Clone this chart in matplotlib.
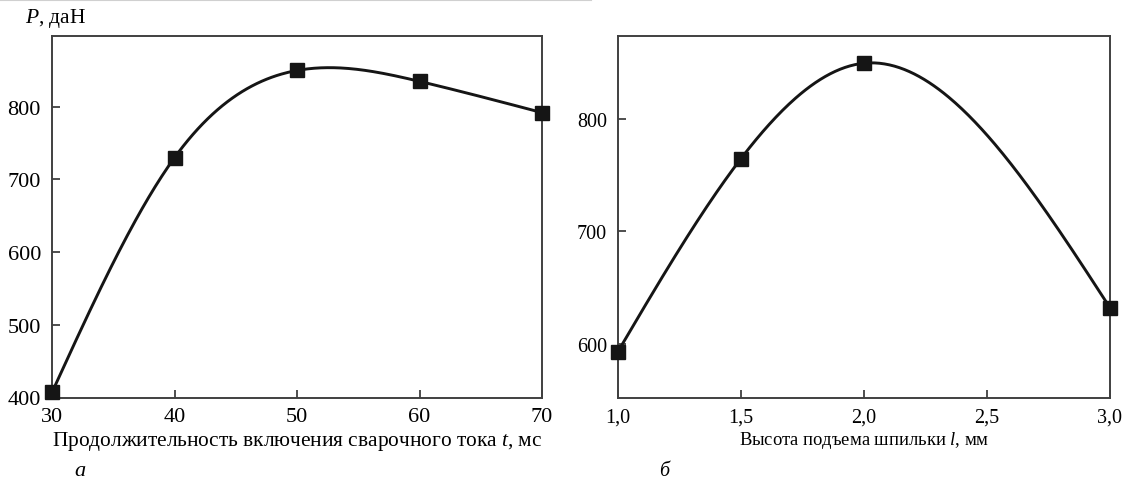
import numpy as np
import matplotlib
matplotlib.use("Agg")
import matplotlib.pyplot as plt
from matplotlib.lines import Line2D

# Data
t_ms = [30, 40, 50, 60, 70]
P_t = [407, 730, 850, 835, 792]
l_mm = [1.0, 1.5, 2.0, 3.0]
P_l = [593, 765, 850, 632]

xticks_a = [30, 40, 50, 60, 70]
xticklabels_a = ["30", "40", "50", "60", "70"]
yticks_a = [400, 500, 600, 700, 800]
xticks_b = [1.0, 1.5, 2.0, 2.5, 3.0]
xticklabels_b = ["1,0", "1,5", "2,0", "2,5", "3,0"]
yticks_b = [600, 700, 800]


def natural_spline(x, y, n=300):
    x = np.asarray(x, float)
    y = np.asarray(y, float)
    m = len(x)
    h = np.diff(x)
    A = np.zeros((m, m))
    b = np.zeros(m)
    A[0, 0] = 1
    A[-1, -1] = 1
    for i in range(1, m - 1):
        A[i, i - 1] = h[i - 1]
        A[i, i] = 2 * (h[i - 1] + h[i])
        A[i, i + 1] = h[i]
        b[i] = 3 * ((y[i + 1] - y[i]) / h[i] - (y[i] - y[i - 1]) / h[i - 1])
    c = np.linalg.solve(A, b)
    xs = np.linspace(x[0], x[-1], n)
    ys = np.empty_like(xs)
    for k, xv in enumerate(xs):
        i = min(np.searchsorted(x, xv, side="right") - 1, m - 2)
        dx = xv - x[i]
        bb = (y[i + 1] - y[i]) / h[i] - h[i] * (2 * c[i] + c[i + 1]) / 3
        d = (c[i + 1] - c[i]) / (3 * h[i])
        ys[k] = y[i] + bb * dx + c[i] * dx ** 2 + d * dx ** 3
    return xs, ys


plt.rcParams["font.family"] = ["Liberation Serif", "DejaVu Serif"]
plt.rcParams["mathtext.fontset"] = "custom"
plt.rcParams["mathtext.it"] = "Liberation Serif:italic"
plt.rcParams["mathtext.rm"] = "Liberation Serif"

W, H = 1129, 481
fig = plt.figure(figsize=(W / 100, H / 100), dpi=100)
ax1 = fig.add_axes([52 / W, 1 - 398.5 / H, 490 / W, 361.2 / H])
ax2 = fig.add_axes([618 / W, 1 - 398.5 / H, 492 / W, 361.2 / H])

# faint scan line at top
fig.add_artist(Line2D([0, 591 / W], [1 - 1 / H, 1 - 1 / H], transform=fig.transFigure,
                      color="#d0d0d0", lw=1.5))

spine_color = "#404040"
for ax, fs in ((ax1, 16), (ax2, 14.5)):
    for s in ax.spines.values():
        s.set_color(spine_color)
        s.set_linewidth(1.4)
    ax.tick_params(direction="in", length=6, width=1.3, color=spine_color,
                   labelsize=fs, top=False, right=False)
    ax.tick_params(axis="y", pad=8)
    ax.tick_params(axis="x", pad=7)

line_kw = dict(color="#151515", lw=2.1)
mk_kw = dict(marker="s", ls="none", ms=9.5, color="#151515", clip_on=False, zorder=5)

xs, ys = natural_spline(t_ms, P_t)
ax1.plot(xs, ys, **line_kw)
ax1.plot(t_ms, P_t, **mk_kw)
ax1.set_xlim(30, 70)
ax1.set_ylim(400, 897)
ax1.set_xticks(xticks_a)
ax1.set_xticklabels(xticklabels_a)
ax1.set_yticks(yticks_a)
ax1.set_xlabel("Продолжительность включения сварочного тока $t$, мс", fontsize=15.4, labelpad=2)
fig.text(25 / W, 1 - 19 / H, "$P$, даН", fontsize=15.5, ha="left", va="center")
fig.text(80 / W, 1 - 476 / H, "а", fontsize=16, style="italic", ha="center", va="baseline")

xs, ys = natural_spline(l_mm, P_l)
ax2.plot(xs, ys, **line_kw)
ax2.plot(l_mm, P_l, **mk_kw)
ax2.set_xlim(1.0, 3.0)
ax2.set_ylim(552, 874)
ax2.set_xticks(xticks_b)
ax2.set_xticklabels(xticklabels_b)
ax2.set_yticks(yticks_b)
ax2.set_xlabel("Высота подъема шпильки $l$, мм", fontsize=13.4, labelpad=2)
fig.text(664 / W, 1 - 476 / H, "б", fontsize=14.5, style="italic", ha="center", va="baseline")

fig.savefig("out.png", dpi=100)
